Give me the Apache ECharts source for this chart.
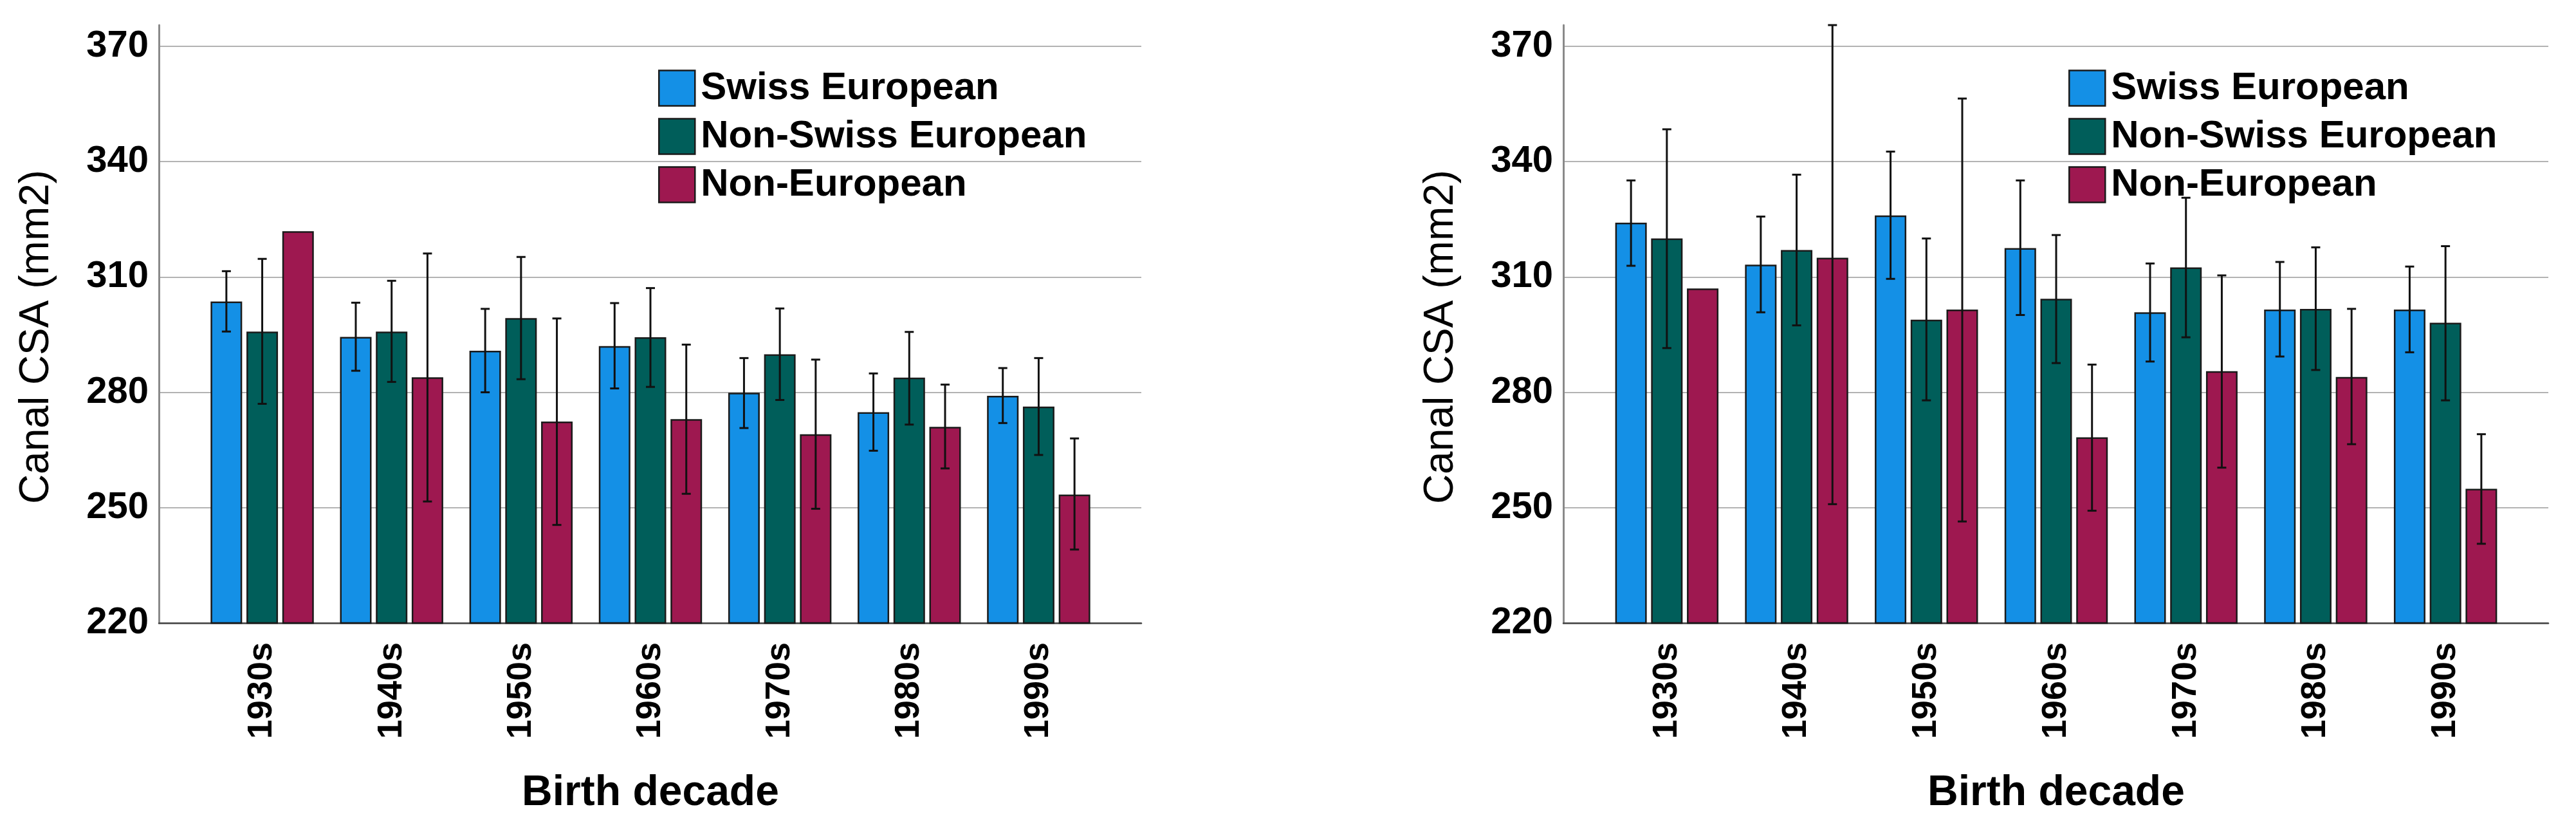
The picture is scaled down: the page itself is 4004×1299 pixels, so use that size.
<!DOCTYPE html>
<html>
<head>
<meta charset="utf-8">
<script src="https://cdn.jsdelivr.net/npm/echarts@6/dist/echarts.min.js"></script>
<style>
html,body{margin:0;padding:0;background:#fff;}
#chart{width:4004px;height:1299px;}
</style>
</head>
<body>
<div id="chart"></div>
<script>
// ---------- DATA ----------
const categories = ['1930s', '1940s', '1950s', '1960s', '1970s', '1980s', '1990s'];
const seriesNames = ['Swiss European', 'Non-Swiss European', 'Non-European'];
const yTicks = [220, 250, 280, 310, 340, 370];

// Left panel
const swissL      = [303.6, 294.4, 290.8, 292.0, 279.9, 274.8, 279.1];
const swissL_lo   = [295.8, 285.6, 280.0, 281.0, 270.7, 264.8, 272.0];
const swissL_hi   = [311.5, 303.3, 301.7, 303.2, 288.9, 284.9, 286.3];
const nonSwissL    = [295.8, 295.8, 299.3, 294.3, 289.9, 283.8, 276.3];
const nonSwissL_lo = [277.0, 282.7, 283.4, 281.4, 278.0, 271.6, 263.7];
const nonSwissL_hi = [314.7, 309.0, 315.2, 307.1, 301.8, 295.7, 288.9];
const nonEuL      = [321.9, 283.9, 272.4, 273.0, 269.1, 271.0, 253.4];
const nonEuL_lo   = [null, 251.6, 245.5, 253.6, 249.7, 260.2, 239.1];
const nonEuL_hi   = [null, 316.1, 299.2, 292.4, 288.5, 282.0, 268.0];

// Right panel
const swissR      = [324.1, 313.2, 326.0, 317.5, 300.8, 301.5, 301.5];
const swissR_lo   = [312.9, 300.8, 309.5, 300.1, 288.0, 289.3, 290.4];
const swissR_hi   = [335.1, 325.7, 342.6, 335.1, 313.5, 313.9, 312.7];
const nonSwissR    = [320.0, 317.0, 298.9, 304.3, 312.5, 301.7, 298.1];
const nonSwissR_lo = [291.5, 297.4, 277.9, 287.6, 294.3, 285.8, 277.9];
const nonSwissR_hi = [348.4, 336.6, 320.0, 320.9, 330.6, 317.7, 318.0];
const nonEuR      = [307.0, 315.0, 301.5, 268.3, 285.5, 284.0, 254.9];
const nonEuR_lo   = [null, 250.9, 246.4, 249.2, 260.4, 266.5, 240.6];
const nonEuR_hi   = [null, 375.5, 356.4, 287.2, 310.4, 301.7, 269.1];

// ---------- STYLE ----------
const Y_MIN = 220, Y_MAX = 375.5, Y_INT = 30;
const COLORS = ['#1490e6', '#005e5a', '#9e1850'];
const BAR_W = 49, BAR_GAP = 0.137;
const FONT = 'Liberation Sans, Arial, sans-serif';

const panels = [
  {means: [swissL, nonSwissL, nonEuL], lo: [swissL_lo, nonSwissL_lo, nonEuL_lo], hi: [swissL_hi, nonSwissL_hi, nonEuL_hi]},
  {means: [swissR, nonSwissR, nonEuR], lo: [swissR_lo, nonSwissR_lo, nonEuR_lo], hi: [swissR_hi, nonSwissR_hi, nonEuR_hi]}
];

const wideGrids = [{left: 247, top: 39, width: 1527, height: 929}, {left: 2430, top: 39, width: 1531, height: 929}];
const narrowGrids = [{left: 307, top: 39, width: 1408, height: 929}, {left: 2490, top: 39, width: 1412, height: 929}];
const legendPos = [{left: 1018, top: 102}, {left: 3210, top: 102}];

const grid = [], xAxis = [], yAxis = [], series = [], legend = [];

function makeErrRender(idx) {
  return function (params, api) {
    const x = api.value(0), lo = api.value(1), hi = api.value(2);
    const pLo = api.coord([x, lo]);
    const pHi = api.coord([x, hi]);
    const off = (idx - 1) * BAR_W * (1 + BAR_GAP);
    const cx = pLo[0] + off;
    const cap = 7;
    const st = {stroke: '#111', lineWidth: 3};
    return {
      type: 'group',
      children: [
        {type: 'line', shape: {x1: cx, y1: pLo[1], x2: cx, y2: pHi[1]}, style: st},
        {type: 'line', shape: {x1: cx - cap, y1: pHi[1], x2: cx + cap, y2: pHi[1]}, style: st},
        {type: 'line', shape: {x1: cx - cap, y1: pLo[1], x2: cx + cap, y2: pLo[1]}, style: st}
      ]
    };
  };
}

const gridColors = yTicks.map(() => '#b3b3b3').concat(['rgba(0,0,0,0)']);

panels.forEach((p, k) => {
  const gW = grid.length; grid.push(wideGrids[k]);
  const gN = grid.length; grid.push(narrowGrids[k]);
  // wide axes: frame + gridlines + y labels
  const xW = xAxis.length;
  xAxis.push({
    gridIndex: gW, type: 'value', min: 0, max: 1, position: 'bottom',
    axisLine: {show: true, onZero: false, lineStyle: {color: '#444', width: 2.5}},
    axisTick: {show: false}, axisLabel: {show: false}, splitLine: {show: false}
  });
  const yW = yAxis.length;
  yAxis.push({
    gridIndex: gW, type: 'value', min: Y_MIN, max: Y_MAX, interval: Y_INT,
    axisLine: {show: true, lineStyle: {color: '#8a8a8a', width: 3}},
    axisTick: {show: false},
    axisLabel: {
      show: true, showMaxLabel: false, margin: 16, padding: [17, 0, 0, 0],
      fontSize: 58, fontWeight: 'bold', color: '#000', fontFamily: FONT
    },
    splitLine: {show: true, lineStyle: {color: gridColors, width: 2}},
    name: 'Canal CSA (mm2)', nameLocation: 'middle', nameGap: 158, nameRotate: 90,
    nameTextStyle: {fontSize: 64, color: '#000', fontFamily: FONT, fontWeight: 'normal', padding: [0, 40, 0, 0]}
  });
  // narrow axes: categories
  const xN = xAxis.length;
  xAxis.push({
    gridIndex: gN, type: 'category', data: categories,
    axisLine: {show: false}, axisTick: {show: false},
    axisLabel: {
      rotate: 90, margin: 30, fontSize: 54, fontWeight: 'bold', color: '#000', fontFamily: FONT,
      padding: [14, 0, 0, 0]
    },
    name: 'Birth decade', nameLocation: 'middle', nameGap: 232,
    nameTextStyle: {fontSize: 66, fontWeight: 'bold', color: '#000', fontFamily: FONT, verticalAlign: 'top'}
  });
  const yN = yAxis.length;
  yAxis.push({gridIndex: gN, type: 'value', min: Y_MIN, max: Y_MAX, show: false});

  // dummy series to attach wide grid
  series.push({type: 'line', xAxisIndex: xW, yAxisIndex: yW, data: [], silent: true});

  p.means.forEach((vals, i) => {
    series.push({
      name: seriesNames[i], type: 'bar', xAxisIndex: xN, yAxisIndex: yN,
      data: vals, barWidth: BAR_W, barGap: (BAR_GAP * 100) + '%',
      itemStyle: {color: COLORS[i], borderColor: '#1a1a1a', borderWidth: 2.5},
      z: 2
    });
  });
  p.means.forEach((vals, i) => {
    const d = [];
    categories.forEach((c, j) => {
      if (p.lo[i][j] != null && p.hi[i][j] != null) d.push([j, p.lo[i][j], p.hi[i][j]]);
    });
    series.push({
      type: 'custom', xAxisIndex: xN, yAxisIndex: yN, data: d,
      renderItem: makeErrRender(i), encode: {x: 0, y: [1, 2]}, z: 5, silent: true
    });
  });

  legend.push({
    orient: 'vertical', left: legendPos[k].left, top: legendPos[k].top,
    data: seriesNames, icon: 'rect', itemWidth: 56, itemHeight: 55, itemGap: 15,
    selectedMode: false,
    itemStyle: {borderColor: '#1a1a1a', borderWidth: 2.5},
    textStyle: {fontSize: 60, fontWeight: 'bold', color: '#000', fontFamily: FONT, padding: [10, 0, 0, 4]}
  });
});

const chart = echarts.init(document.getElementById('chart'), null, {renderer: 'canvas'});
chart.setOption({
  animation: false,
  backgroundColor: '#fff',
  grid: grid, xAxis: xAxis, yAxis: yAxis, legend: legend, series: series
});
</script>
</body>
</html>
